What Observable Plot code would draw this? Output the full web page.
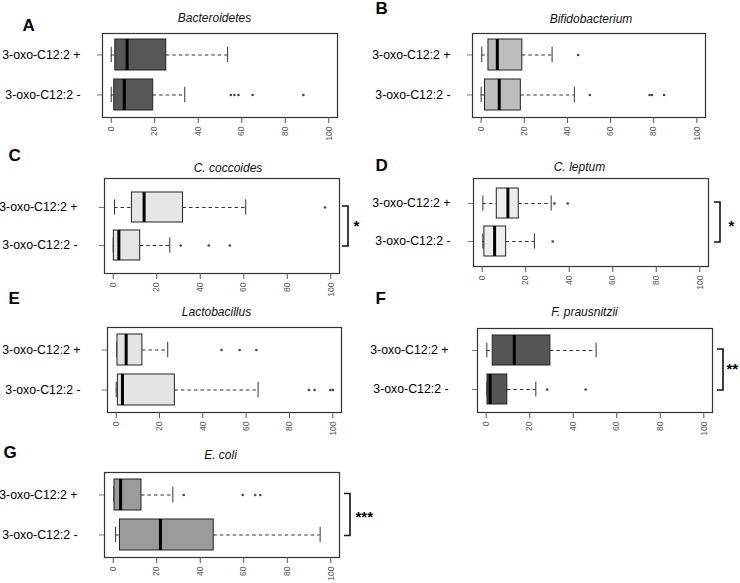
<!DOCTYPE html>
<html>
<head>
<meta charset="utf-8">
<script src="https://cdn.jsdelivr.net/npm/d3@7"></script>
<script src="https://cdn.jsdelivr.net/npm/@observablehq/plot@0.6"></script>
<style>
  html, body { margin: 0; padding: 0; background: white; overflow: hidden; }
  #fig { position: relative; width: 740px; height: 583px; }
  .panel { position: absolute; }
</style>
</head>
<body>
<div id="fig"></div>
<script>
// ---- data ----
const letters = ["A", "B", "C", "D", "E", "F", "G"];
const taxa = ["Bacteroidetes", "Bifidobacterium", "C. coccoides", "C. leptum", "Lactobacillus", "F. prausnitzii", "E. coli"];
const groups = ["3-oxo-C12:2 +", "3-oxo-C12:2 -"];
const xTicks = [0, 20, 40, 60, 80, 100];
// per panel: [plus, minus]
const whiskerLow  = [[0, 0], [0.3, 0], [0.6, 0], [0.3, 0.3], [0.3, 0], [0.3, 0.3], [0.3, 1.1]];
const quartile1   = [[1.9, 1.4], [3.4, 1.8], [8.6, 0.3], [6.7, 1], [0.6, 0.8], [3, 0.6], [0.6, 3.1]];
const medians     = [[7.3, 6], [7.5, 8.4], [14.2, 2.6], [11.8, 5.7], [4.6, 2.9], [12.9, 1.8], [3.4, 21.7]];
const quartile3   = [[25.3, 19.3], [19.1, 18.4], [32.1, 12.4], [16.8, 11], [12.1, 27.1], [29.5, 9.7], [13, 46.2]];
const whiskerHigh = [[53.5, 33.8], [32.9, 43.2], [60.9, 26], [31.7, 24], [23.8, 65.5], [50.5, 22.8], [27.4, 95.1]];
const outliers = [
  [[], [55, 56.6, 58.5, 65, 88.3]],
  [[45], [50.4, 78.1, 79.2, 84.8]],
  [[97.3], [31, 43.9, 53.6]],
  [[33.2, 39.3], [32.4]],
  [[48.6, 57, 64.7], [89, 91.6, 98.9, 100]],
  [[], [28, 45.7]],
  [[32.4, 59.5, 65.3, 67.6], []]
];
const significance = ["", "", "*", "*", "", "**", "***"];

// ---- styles / layout ----
const boxFill = ["#575757", "#bdbdbd", "#e6e6e6", "#eeeeee", "#e4e4e4", "#555555", "#9b9b9b"];
const layout = [
  {left: 0,   top: 0,   ml: 102, mr: 33, fh: 84, step: 40, le: 80, lx: 22, ly: 30, tdx: -5.5,  tdy: -15},
  {left: 370, top: 0,   ml: 102, mr: 35, fh: 84, step: 40, le: 80, lx: 5,  ly: 13, tdx: 2,     tdy: -14},
  {left: 0,   top: 145, ml: 104, mr: 31, fh: 95, step: 38, le: 77, lx: 8,  ly: 15, tdx: 6,     tdy: -10, bx: 9,  sdx: 14, sdy: 0},
  {left: 370, top: 145, ml: 103, mr: 32, fh: 88, step: 38, le: 80, lx: 5,  ly: 25, tdx: -11.5, tdy: -11, bx: 12, sdx: 20, sdy: 4},
  {left: 0,   top: 294, ml: 107, mr: 29, fh: 85, step: 40, le: 80, lx: 8,  ly: 9,  tdx: -8,    tdy: -15},
  {left: 370, top: 295, ml: 107, mr: 28, fh: 84, step: 39, le: 78, lx: 5,  ly: 8,  tdx: -10.5, tdy: -16, bx: 11, sdx: 14, sdy: -1},
  {left: 0,   top: 439, ml: 104, mr: 31, fh: 85, step: 40, le: 77, lx: 3,  ly: 18, tdx: -1.5,  tdy: -17, bx: 11, sdx: 16, sdy: 2}
];
const W = 370, MT = 33, MB = 30, PI = 0.22;
const font = "'Liberation Sans', Arial, sans-serif";

const fig = document.getElementById("fig");

letters.forEach((letter, i) => {
  const L = layout[i];
  const rows = groups.map((g, j) => ({
    g, lo: whiskerLow[i][j], q1: quartile1[i][j], med: medians[i][j], q3: quartile3[i][j], hi: whiskerHigh[i][j]
  }));
  const outs = groups.flatMap((g, j) => outliers[i][j].map(v => ({g, v})));
  const po = (L.fh / L.step - 2 + PI) / 2;
  const bw = L.step * (1 - PI);
  const marks = [
    Plot.ruleY(rows, {y: "g", x1: "lo", x2: "q1", stroke: "#333", strokeWidth: 1, strokeDasharray: "3.5,3"}),
    Plot.ruleY(rows, {y: "g", x1: "q3", x2: "hi", stroke: "#333", strokeWidth: 1, strokeDasharray: "3.5,3"}),
    Plot.tickX(rows, {x: "lo", y: "g", insetTop: bw / 4, insetBottom: bw / 4, stroke: "#333", strokeWidth: 1}),
    Plot.tickX(rows, {x: "hi", y: "g", insetTop: bw / 4, insetBottom: bw / 4, stroke: "#333", strokeWidth: 1}),
    Plot.barX(rows, {x1: "q1", x2: "q3", y: "g", fill: boxFill[i], stroke: "#222", strokeWidth: 1}),
    Plot.tickX(rows, {x: "med", y: "g", stroke: "#000", strokeWidth: 3}),
    Plot.dot(outs, {x: "v", y: "g", r: 1.3, fill: "#444", stroke: null}),
    Plot.frame({stroke: "#333", strokeWidth: 1.2}),
    Plot.axisX({ticks: xTicks, tickRotate: -90, tickSize: 6, tickPadding: 3, fontSize: 8.5, color: "#555", label: null}),
    Plot.axisY({tickSize: 5, text: null, stroke: "#777", label: null}),
    Plot.axisY({tickSize: 0, tickPadding: L.ml - L.le, fontSize: 12.3, fill: "#000", label: null}),
    Plot.text([taxa[i]], {text: d => d, frameAnchor: "top", dx: L.tdx, dy: L.tdy, lineAnchor: "middle",
      fontStyle: "italic", fontSize: 12, fill: "#111"}),
    Plot.text([letter], {text: d => d, frameAnchor: "top-left", dx: L.lx - L.ml, dy: L.ly - MT,
      lineAnchor: "bottom", textAnchor: "start", fontWeight: "bold", fontSize: 17, fill: "#000"})
  ];
  if (significance[i]) {
    marks.push(Plot.text([significance[i]], {text: d => d, frameAnchor: "right", dx: L.sdx, dy: L.sdy,
      textAnchor: "start", lineAnchor: "middle", fontWeight: "bold", fontSize: 15, fill: "#000"}));
  }
  const plot = Plot.plot({
    width: W,
    height: MT + L.fh + MB,
    marginLeft: L.ml,
    marginRight: L.mr,
    marginTop: MT,
    marginBottom: MB,
    style: {fontFamily: font, background: "transparent", overflow: "visible"},
    x: {domain: [-4, 104]},
    y: {domain: groups, paddingInner: PI, paddingOuter: po, align: 0.5},
    marks
  });
  if (significance[i]) {
    const ys = plot.scale("y");
    const yp = ys.apply(groups[0]) + ys.bandwidth / 2 - 1;
    const ym = ys.apply(groups[1]) + ys.bandwidth / 2 + 1;
    const xr = W - L.mr + L.bx;
    d3.select(plot).append("path")
      .attr("d", `M${xr - 6},${yp}H${xr}V${ym}H${xr - 6}`)
      .attr("fill", "none").attr("stroke", "#111").attr("stroke-width", 1.6);
  }
  const div = document.createElement("div");
  div.className = "panel";
  div.style.left = L.left + "px";
  div.style.top = L.top + "px";
  div.appendChild(plot);
  fig.appendChild(div);
});
</script>
</body>
</html>
